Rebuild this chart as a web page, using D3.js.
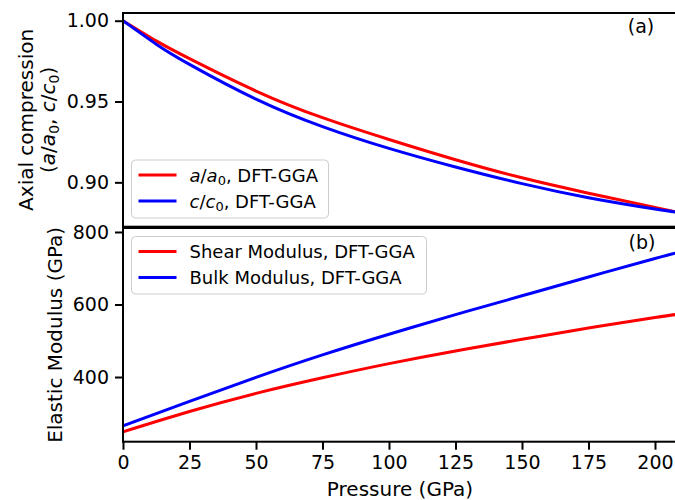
<!DOCTYPE html>
<html>
<head>
<meta charset="utf-8">
<script src="https://cdn.jsdelivr.net/npm/d3@7"></script>
<style>
  html, body { margin: 0; padding: 0; background: #fff; }
  svg { display: block; font-family: "DejaVu Sans", sans-serif; }
</style>
</head>
<body>
<svg id="chart" width="675" height="500"></svg>
<script>
// Axial compression vs pressure (panel a)
const pressureA = [0, 12.5, 25, 50, 75, 100, 125, 150, 175, 200, 208.5];
const aRatio = [1.000, 0.9875, 0.9765, 0.9565, 0.9400, 0.9265, 0.9140, 0.9028, 0.8933, 0.8845, 0.8815];
const cRatio = [1.000, 0.9855, 0.9730, 0.9515, 0.9345, 0.9210, 0.9095, 0.8992, 0.8905, 0.8835, 0.8815];

// Elastic moduli vs pressure (panel b)
const pressureB = [0, 25, 50, 75, 100, 125, 150, 175, 200, 208.5];
const shearModulus = [249, 305, 355, 398, 437, 472, 504, 535, 564, 573];
const bulkModulus = [265, 333, 399, 461, 518, 572, 624, 676, 727, 743];

// Tick labels
const xTicks = [0, 25, 50, 75, 100, 125, 150, 175, 200];
const yTicksA = [0.90, 0.95, 1.00];
const yTicksB = [400, 600, 800];

const RED = "#ff0000", BLUE = "#0000ff";
const svg = d3.select("#chart");

const left = 123, right = 677.6;
const x = d3.scaleLinear().domain([0, 208.5]).range([left, right]);

const panelA = { top: 13, bottom: 226.7 };
const panelB = { top: 228, bottom: 441.7 };
const yA = d3.scaleLinear().domain([0.87255, 1.00477]).range([panelA.bottom, panelA.top]);
const yB = d3.scaleLinear().domain([221.6, 811]).range([panelB.bottom, panelB.top]);

// clip paths for plot areas
const defs = svg.append("defs");
[["clipA", panelA], ["clipB", panelB]].forEach(([id, p]) => {
  defs.append("clipPath").attr("id", id)
    .append("rect").attr("x", left).attr("y", p.top)
    .attr("width", right - left).attr("height", p.bottom - p.top);
});

function drawLine(pressures, values, yScale, color, clip) {
  const line = d3.line()
    .x((d, i) => x(pressures[i]))
    .y(d => yScale(d))
    .curve(d3.curveNatural);
  svg.append("path")
    .attr("clip-path", `url(#${clip})`)
    .attr("d", line(values))
    .attr("fill", "none")
    .attr("stroke", color)
    .attr("stroke-width", 3)
    .attr("stroke-linecap", "square");
}

drawLine(pressureA, aRatio, yA, RED, "clipA");
drawLine(pressureA, cRatio, yA, BLUE, "clipA");
drawLine(pressureB, shearModulus, yB, RED, "clipB");
drawLine(pressureB, bulkModulus, yB, BLUE, "clipB");

// axes
function styleAxis(g) {
  g.select(".domain").remove();
  g.selectAll(".tick line").attr("stroke", "#000").attr("stroke-width", 2);
  g.selectAll(".tick text").attr("fill", "#000")
    .style("font-family", "'DejaVu Sans', sans-serif").style("font-size", "19px");
}

svg.append("g").attr("transform", `translate(${left},0)`)
  .call(d3.axisLeft(yA).tickValues(yTicksA).tickFormat(d3.format(".2f")).tickSize(8).tickPadding(6))
  .call(styleAxis);

svg.append("g").attr("transform", `translate(${left},0)`)
  .call(d3.axisLeft(yB).tickValues(yTicksB).tickFormat(d3.format("d")).tickSize(8).tickPadding(6))
  .call(styleAxis);

svg.append("g").attr("transform", `translate(0,${panelB.bottom})`)
  .call(d3.axisBottom(x).tickValues(xTicks).tickFormat(d3.format("d")).tickSize(8).tickPadding(6))
  .call(styleAxis);

// frames
[panelA, panelB].forEach(p => {
  svg.append("rect")
    .attr("x", left).attr("y", p.top)
    .attr("width", right - left).attr("height", p.bottom - p.top)
    .attr("fill", "none").attr("stroke", "#000").attr("stroke-width", 2);
});

// axis titles
svg.append("text")
  .attr("x", 400).attr("y", 496)
  .attr("text-anchor", "middle").style("font-size", "20px")
  .text("Pressure (GPa)");

svg.append("text")
  .attr("transform", `translate(62,${(panelB.top + panelB.bottom) / 2}) rotate(-90)`)
  .attr("text-anchor", "middle").style("font-size", "20px")
  .text("Elastic Modulus (GPa)");

const midA = (panelA.top + panelA.bottom) / 2;
svg.append("text")
  .attr("transform", `translate(33,${midA}) rotate(-90)`)
  .attr("text-anchor", "middle").style("font-size", "20px")
  .text("Axial compression");

// ratio text with italic symbols and subscripts
function ratioLabel(sel, size, subSize, parts) {
  parts.forEach(p => {
    const t = sel.append("tspan").text(p.t);
    if (p.i) t.style("font-style", "italic");
    if (p.sub) t.style("font-size", subSize + "px").attr("dy", size * 0.22);
    if (p.after) t.attr("dy", -size * 0.22);
  });
}

const yl2 = svg.append("text")
  .attr("transform", `translate(55,${midA}) rotate(-90)`)
  .attr("text-anchor", "middle").style("font-size", "20px");
ratioLabel(yl2, 20, 14, [
  { t: "(" }, { t: "a", i: true }, { t: "/" }, { t: "a", i: true }, { t: "0", sub: true },
  { t: ", ", after: true }, { t: "c", i: true }, { t: "/" }, { t: "c", i: true }, { t: "0", sub: true },
  { t: ")", after: true }
]);

// panel tags
svg.append("text").attr("x", 641).attr("y", 33).attr("text-anchor", "middle")
  .style("font-size", "19px").text("(a)");
svg.append("text").attr("x", 642).attr("y", 249).attr("text-anchor", "middle")
  .style("font-size", "19px").text("(b)");

// legends
function legend(box, rows) {
  svg.append("rect")
    .attr("x", box.x).attr("y", box.y).attr("width", box.w).attr("height", box.h)
    .attr("rx", 4).attr("fill", "#fff").attr("fill-opacity", 0.8)
    .attr("stroke", "#cccccc").attr("stroke-width", 1);
  rows.forEach((r, i) => {
    const cy = box.y + 15 + i * 26;
    svg.append("line")
      .attr("x1", box.x + 7).attr("x2", box.x + 45)
      .attr("y1", cy).attr("y2", cy)
      .attr("stroke", r.color).attr("stroke-width", 3);
    const t = svg.append("text")
      .attr("x", box.x + 58).attr("y", cy + 6.5)
      .style("font-size", "18px");
    if (r.parts) ratioLabel(t, 18, 13, r.parts);
    else t.text(r.label);
  });
}

legend({ x: 131.5, y: 160, w: 197, h: 58 }, [
  { color: RED, parts: [{ t: "a", i: true }, { t: "/" }, { t: "a", i: true }, { t: "0", sub: true }, { t: ", DFT-GGA", after: true }] },
  { color: BLUE, parts: [{ t: "c", i: true }, { t: "/" }, { t: "c", i: true }, { t: "0", sub: true }, { t: ", DFT-GGA", after: true }] }
]);

legend({ x: 131.5, y: 236.5, w: 295, h: 57.5 }, [
  { color: RED, label: "Shear Modulus, DFT-GGA" },
  { color: BLUE, label: "Bulk Modulus, DFT-GGA" }
]);
</script>
</body>
</html>
